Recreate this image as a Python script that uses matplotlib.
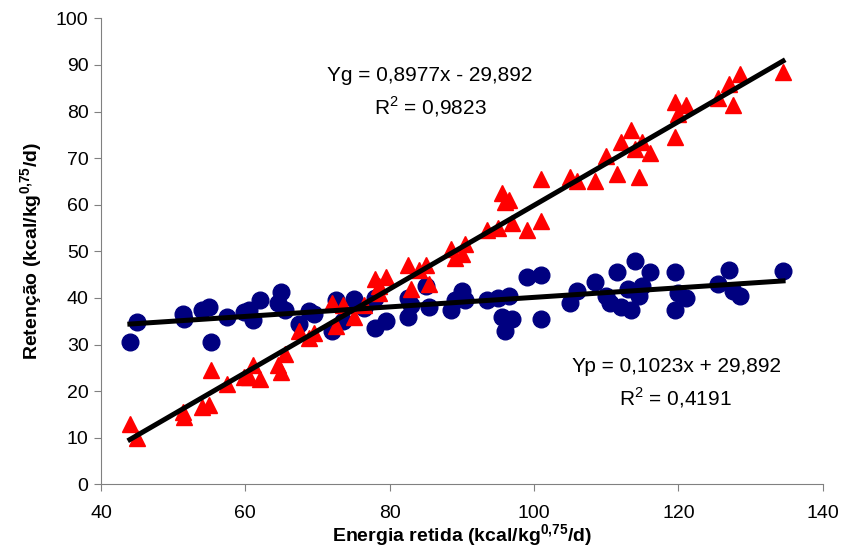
import numpy as np
import matplotlib
matplotlib.use("Agg")
import matplotlib.pyplot as plt

plt.rcParams['font.family'] = ['Liberation Sans', 'DejaVu Sans']
plt.rcParams['mathtext.fontset'] = 'custom'
plt.rcParams['mathtext.rm'] = 'Liberation Sans'
plt.rcParams['mathtext.bf'] = 'Liberation Sans:bold'

# energia retida (x) e retenções (gordura = Yg, proteína = Yp)
energia_p = [44, 45, 51.3, 51.5, 54, 55, 55.2, 57.5, 59.8, 60.5, 61, 62, 64.5, 65, 65.5,
             67.5, 68.8, 69.5, 72, 72.5, 73.5, 75, 76.5, 78, 78, 79.5, 82.5, 82.5, 83,
             85, 85.5, 88.5, 89, 90, 90.5, 93.5, 95, 95.5, 96, 96.5, 97, 99, 101, 101,
             105, 106, 108.5, 110, 110.5, 111.5, 112, 113, 113.5, 114, 114.5, 115, 116,
             119.5, 119.5, 120, 121, 125.5, 127, 127.5, 128.5, 134.5]
ret_p = [30.5, 34.8, 36.5, 35.5, 37.5, 38, 30.5, 36, 37, 37.5, 35.2, 39.5, 39, 41.3, 37.5,
         34.3, 37.2, 36.5, 33, 39.5, 35, 39.7, 37.8, 40, 33.5, 35, 40, 36, 38.5,
         42.5, 38, 37.5, 39.5, 41.5, 39.5, 39.5, 40, 36, 33, 40.5, 35.5, 44.5, 45, 35.5,
         39, 41.5, 43.5, 40.5, 39, 45.5, 38, 42, 37.5, 48, 40.5, 42.5, 45.5,
         45.5, 37.5, 41, 40, 43, 46, 41.5, 40.5, 45.8]

energia_g = [44, 45, 51.3, 51.5, 54, 55, 55.2, 57.5, 59.8, 60.5, 61, 62, 64.5, 65, 65.5,
             67.5, 68.8, 69.5, 72, 72.5, 73.5, 75, 76.5, 78, 78.5, 79.5, 78.5, 82.5, 83,
             84, 85, 85.5, 88.5, 89, 90, 90.5, 93.5, 95, 95.5, 96, 96.5, 97, 99, 101, 101,
             105, 106, 108.5, 110, 111.5, 112, 113.5, 114, 114.5, 115, 116,
             119.5, 119.5, 120, 121, 125.5, 127, 127.5, 128.5, 134.5]
ret_g = [13, 10, 15.5, 14.5, 16.5, 17, 24.5, 21.5, 23, 23, 25.5, 22.5, 25.5, 24, 28,
         33, 31.5, 32.5, 39, 34, 38.5, 36, 38.5, 44, 42.5, 44.5, 41, 47, 42,
         46, 47, 43, 50.5, 48.5, 49.5, 51.5, 54.5, 55, 62.5, 60.5, 61, 56, 54.5, 65.5, 56.5,
         66, 65, 65, 70.5, 66.5, 73.5, 76, 72, 66, 73.5, 71,
         82, 74.5, 79.5, 81.5, 83, 86, 81.5, 88, 88.5]

# equações de regressão
a_g, b_g, r2_g = 0.8977, -29.892, 0.9823
a_p, b_p, r2_p = 0.1023, 29.892, 0.4191

fig = plt.figure(figsize=(8.43, 5.52), dpi=100)
ax = fig.add_axes([0.1198, 0.1226, 0.8562, 0.8442])

ax.plot(energia_p, ret_p, 'o', color='#000080', markersize=12, zorder=2)
ax.plot(energia_g, ret_g, '^', color='#FF0000', markersize=12, zorder=2)

xl = np.array([min(energia_g), max(energia_g)])
ax.plot(xl, a_g * xl + b_g, color='black', lw=3.6, zorder=3)
xl = np.array([min(energia_p), max(energia_p)])
ax.plot(xl, a_p * xl + b_p, color='black', lw=3.6, zorder=3)

ax.text(85.6, 87.8, "Yg = 0,8977x - 29,892", ha='center', va='center', fontsize=15)
ax.text(85.6, 81.0, "R$^2$ = 0,9823", ha='center', va='center', fontsize=15)
ax.text(119.8, 25.2, "Yp = 0,1023x + 29,892", ha='center', va='center', fontsize=15)
ax.text(119.6, 18.5, "R$^2$ = 0,4191", ha='center', va='center', fontsize=15)

ax.set_xlim(40, 140)
ax.set_ylim(0, 100)
ax.set_xticks(range(40, 141, 20))
ax.set_yticks(range(0, 101, 10))
for s in ['top', 'right']:
    ax.spines[s].set_visible(False)
for s in ['left', 'bottom']:
    ax.spines[s].set_color('#808080')
ax.tick_params(direction='out', length=5, color='#808080', labelsize=14, pad=4)
ax.tick_params(axis='x', pad=10)

ax.set_xlabel(r"Energia retida (kcal/kg$^{\mathbf{0{,}75}}$/d)", fontsize=14, fontweight='bold', labelpad=0)
ax.set_ylabel(r"Retenção (kcal/kg$^{\mathbf{0{,}75}}$/d)", fontsize=14, fontweight='bold', labelpad=8)

fig.savefig("out.png", dpi=100)
